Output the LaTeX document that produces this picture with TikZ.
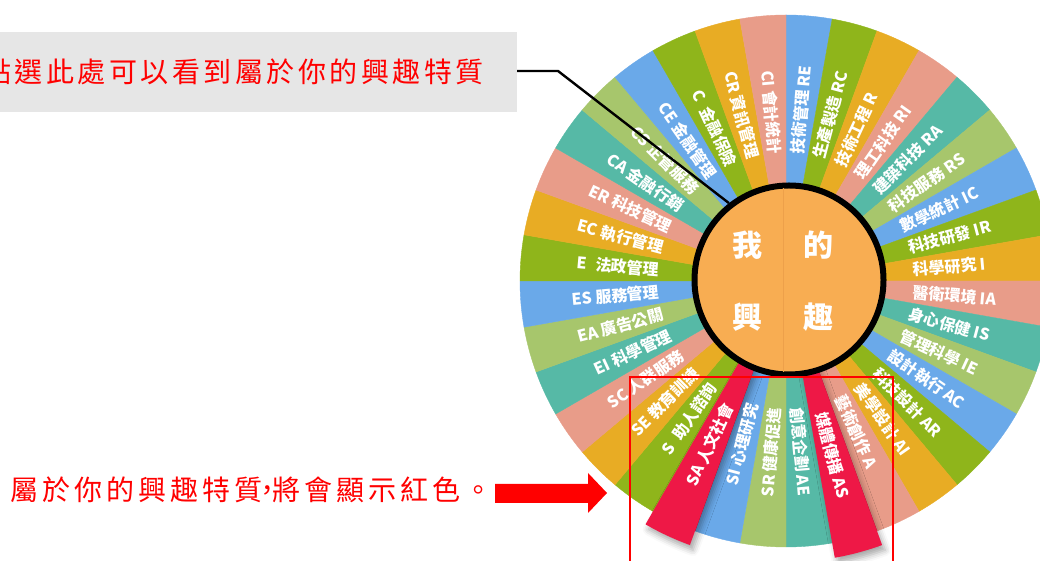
\documentclass[tikz,border=0pt]{standalone}
\usepackage{fontspec}
\newfontfamily\cjk{Noto Sans CJK TC}
\usetikzlibrary{shadows.blur}
\definecolor{wblue}{HTML}{6AA9E9}
\definecolor{wgreen}{HTML}{8FB51B}
\definecolor{wgold}{HTML}{E8AC24}
\definecolor{wsalmon}{HTML}{E89C89}
\definecolor{wteal}{HTML}{56B9A6}
\definecolor{wlgreen}{HTML}{A7C66C}
\definecolor{wred}{HTML}{EE1846}
\definecolor{worange}{HTML}{F8AD52}
\definecolor{wseam}{HTML}{EDA04A}
\definecolor{boxgray}{HTML}{E6E6E6}
\definecolor{txtred}{HTML}{FF0000}
\newcommand\gpa{\hspace{3.5pt}}
\newcommand\gpb{\hspace{4pt}}
\begin{document}
\begin{tikzpicture}[x=1pt,y=1pt,
  seglabel/.style={text=white, inner sep=0pt, font=\cjk\bfseries\fontsize{16}{16}\selectfont},
  segfill/.style={fill=#1, draw=#1, line width=0.4pt},
  redstrip/.style={fill=wred, blur shadow={shadow xshift=3pt, shadow yshift=-5pt, shadow blur radius=6pt, shadow opacity=35}},
  hub/.style={circle, minimum size=189pt, inner sep=0pt, draw=black, line width=6pt, fill=worange},
  hubtext/.style={text=white, inner sep=0pt, font=\cjk\bfseries\fontsize{30}{30}\selectfont},
  redtext/.style={text=txtred, inner sep=0pt, font=\cjk\fontsize{28}{28}\selectfont},
  callout/.style={draw=black, line width=2.4pt},
  frame/.style={draw=txtred, line width=2pt},
  ]
\useasboundingbox (0,0) rectangle (1040,561);
\coordinate (O) at (786,280);
% wheel segments
\foreach \k/\c in {0/wblue,1/wgreen,2/wgold,3/wsalmon,4/wteal,5/wlgreen,
  6/wblue,7/wgreen,8/wgold,9/wsalmon,10/wteal,11/wlgreen,
  12/wblue,13/wgreen,14/wgold,15/wsalmon,16/wred,17/wteal,
  18/wlgreen,19/wblue,20/wred,21/wgreen,22/wgold,23/wsalmon,
  24/wteal,25/wlgreen,26/wblue,27/wgreen,28/wgold,29/wsalmon,
  30/wteal,31/wlgreen,32/wblue,33/wgreen,34/wgold,35/wsalmon}{
  \pgfmathsetmacro\sa{90-10*\k}
  \pgfmathsetmacro\ea{80-10*\k}
  \filldraw[segfill=\c] (O) -- ++(\sa:266) arc[start angle=\sa, end angle=\ea, radius=266] -- cycle;
}
% highlighted (red) strips
\fill[redstrip] (O) -- ++(-70:281) arc[start angle=-70, end angle=-80, radius=281] -- cycle;
\fill[redstrip] (O) -- ++(-110:281) arc[start angle=-110, end angle=-120, radius=281] -- cycle;
% labels
\foreach \k/\t in {0/{技術管理 RE},1/{生產製造 RC},2/{技術工程 R},3/{理工科技 RI},
  4/{建築科技 RA},5/{科技服務 RS},6/{數學統計 IC},7/{科技研發 IR},8/{科學研究 I},
  9/{醫衛環境 IA},10/{身心保健 IS},11/{管理科學 IE},12/{設計執行 AC},13/{科技設計 AR},
  14/{美學設計 AI},15/{藝術創作 A},16/{媒體傳播 AS},17/{創意企劃 AE},
  18/{SR 健康促進},19/{SI 心理研究},20/{SA 人文社會},21/{S\enspace 助人諮詢},
  22/{SE 教育訓練},23/{SC 人群服務},24/{EI 科學管理},25/{EA 廣告公關},
  26/{ES 服務管理},27/{E\enspace 法政管理},28/{EC 執行管理},29/{ER 科技管理},
  30/{CA 金融行銷},31/{CS 企管服務},32/{CE 金融管理},33/{C\enspace 金融保險},
  34/{CR 資訊管理},35/{CI 會計統計}}{
  \pgfmathsetmacro\m{85-10*\k}
  \pgfmathsetmacro\rr{(\k==16||\k==20)?136:127}
  \pgfmathsetmacro\mr{\m+180}
  \ifnum\k<18
    \node[seglabel, anchor=west, rotate=\m] (L\k) at ([shift={(\m:\rr)}]O) {\t};
  \else
    \node[seglabel, anchor=east, rotate=\mr] (L\k) at ([shift={(\m:\rr)}]O) {\t};
  \fi
}
% hub
\node[hub] (hub) at (789,281) {};
\draw[wseam, line width=0.8pt] (783,373) -- (783,189);
\node[hubtext] (h1) at (747,316) {我};
\node[hubtext] (h2) at (818,316) {的};
\node[hubtext] (h3) at (747,244) {興};
\node[hubtext] (h4) at (818,244) {趣};
% callout box
\node[fill=boxgray, minimum width=530pt, minimum height=80pt, inner sep=0pt, anchor=east] (box) at (517,489) {};
\node[redtext, anchor=west] (q) at (-17,489) {點\gpa 選\gpa 此\gpa 處\gpa 可\gpa 以\gpa 看\gpa 到\gpa 屬\gpa 於\gpa 你\gpa 的\gpa 興\gpa 趣\gpa 特\gpa 質};
\coordinate (bend) at (558,490);
\draw[callout] (517,490) -- (bend) -- (hub.128);
% red frame
\draw[frame] (630,-5) -- (630,184) -- (893,184) -- (893,-5);
% bottom note and arrow
\node[redtext, anchor=west] (note) at (10,71) {屬\gpb 於\gpb 你\gpb 的\gpb 興\gpb 趣\gpb 特\gpb 質\makebox[10pt]{，}將\gpb 會\gpb 顯\gpb 示\gpb 紅\gpb 色\gpb 。};
\fill[txtred] (495,77) -- (588,77) -- (588,88) -- (607,68) -- (588,48) -- (588,58) -- (495,58) -- cycle;
\end{tikzpicture}
\end{document}
